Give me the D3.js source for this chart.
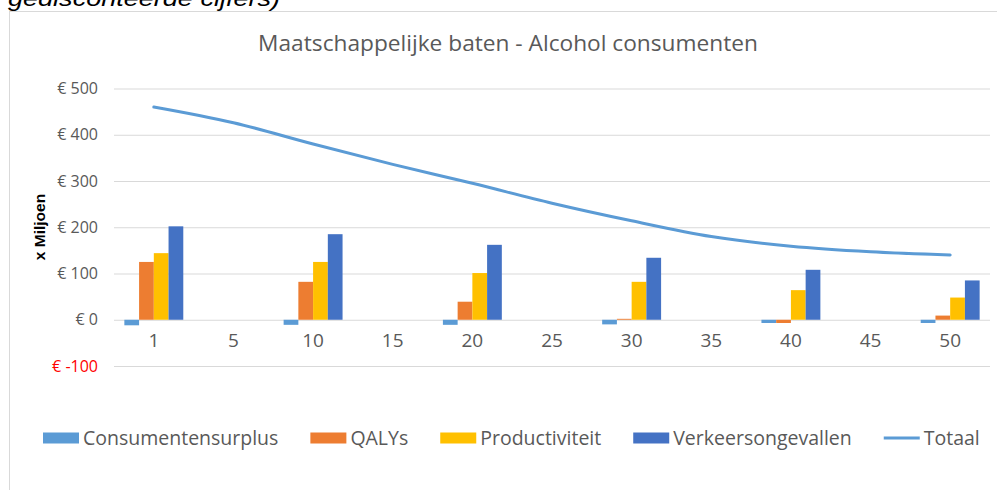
<!DOCTYPE html>
<html><head><meta charset="utf-8">
<script src="https://cdn.jsdelivr.net/npm/d3@7"></script>
<style>body{margin:0;background:#fff}svg{display:block}</style>
</head><body>
<svg id="chart" width="997" height="490"></svg>
<script>
const categories = ["1","5","10","15","20","25","30","35","40","45","50"];
const consumentensurplus = [-12,null,-11,null,-11,null,-10,null,-7,null,-7];
const qalys = [125,null,82,null,39,null,2,null,-7,null,9];
const productiviteit = [144,null,125,null,101,null,82,null,64,null,48];
const verkeersongevallen = [202,null,185,null,162,null,134,null,108,null,85];
const totaal = [460,426,380,336,295,252,214,180,159,147,140];
const yTicks = [-100,0,100,200,300,400,500];
const seriesNames = ["Consumentensurplus","QALYs","Productiviteit","Verkeersongevallen"];
const seriesColors = ["#5b9bd5","#ed7d31","#ffc000","#4472c4"];
const lineColor = "#5b9bd5";
const barSeries = [consumentensurplus, qalys, productiviteit, verkeersongevallen];

const font = "'Open Sans', sans-serif";
const svg = d3.select("#chart");

// frame
svg.append("line").attr("x1",9.5).attr("x2",9.5).attr("y1",11).attr("y2",490).attr("stroke","#d9d9d9");
svg.append("line").attr("x1",9).attr("x2",997).attr("y1",11.5).attr("y2",11.5).attr("stroke","#d9d9d9");

// cut-off top text
svg.append("text").attr("x",8).attr("y",6).attr("font-family","'Liberation Sans', Arial, sans-serif")
  .attr("font-style","italic").attr("font-size",22).attr("fill","#000")
  .attr("textLength",272).attr("lengthAdjust","spacingAndGlyphs")
  .text("gedisconteerde cijfers)");

// title
svg.append("text").attr("x",508).attr("y",51).attr("text-anchor","middle")
  .attr("font-family",font).attr("font-size",22.7).attr("fill","#595959")
  .text("Maatschappelijke baten - Alcohol consumenten");

const y = d3.scaleLinear().domain([-100,500]).range([366,88.5]);
const x0 = d3.scaleBand().domain(categories).range([114,990]).paddingInner(0.26).paddingOuter(0.13);
const x1 = d3.scaleBand().domain(seriesNames).range([0,x0.bandwidth()]);

// gridlines
const yAxis = d3.axisLeft(y).tickValues(yTicks).tickSize(-(990-114)).tickFormat(d=>"€ "+d);
const gy = svg.append("g").attr("transform","translate(114,0)").call(yAxis);
gy.select(".domain").remove();
gy.selectAll(".tick line").attr("stroke","#d9d9d9").attr("stroke-width",1);
gy.selectAll(".tick text").attr("x",-16).attr("font-family",font).attr("font-size",16)
  .attr("fill",d=>d<0?"#ff0000":"#595959");

// bars
seriesNames.forEach((name,si)=>{
  const vals = barSeries[si];
  svg.append("g").selectAll("rect")
    .data(categories.map((c,i)=>({c,v:vals[i]})).filter(d=>d.v!==null))
    .join("rect")
    .attr("x",d=>x0(d.c)+x1(name))
    .attr("width",x1.bandwidth())
    .attr("y",d=>y(Math.max(0,d.v)))
    .attr("height",d=>Math.abs(y(d.v)-y(0)))
    .attr("fill",seriesColors[si]);
});

// x axis labels
const xAxis = d3.axisBottom(x0).tickSize(0).tickPadding(14);
const gx = svg.append("g").attr("transform",`translate(0,${y(0)})`).call(xAxis);
gx.select(".domain").remove();
gx.selectAll(".tick text").attr("font-family",font).attr("font-size",19).attr("fill","#595959");

// line
const line = d3.line().x((d,i)=>x0(categories[i])+x0.bandwidth()/2).y(d=>y(d)).curve(d3.curveCatmullRom.alpha(0.5));
svg.append("path").datum(totaal).attr("d",line).attr("fill","none")
  .attr("stroke",lineColor).attr("stroke-width",3).attr("stroke-linecap","round");

// y title
svg.append("text").attr("transform","translate(45,227) rotate(-90)").attr("text-anchor","middle")
  .attr("font-family","'Liberation Sans', Arial, sans-serif").attr("font-weight","bold").attr("font-size",15.5)
  .attr("fill","#000").text("x Miljoen");

// legend
const legendItems = seriesNames.map((n,i)=>({name:n,color:seriesColors[i],type:"rect"}))
  .concat([{name:"Totaal",color:lineColor,type:"line"}]);
const lg = svg.append("g");
let lx = 43;
const ly = 438;
legendItems.forEach(it=>{
  if(it.type==="rect"){
    lg.append("rect").attr("x",lx).attr("y",ly-5.5).attr("width",36).attr("height",11).attr("fill",it.color);
  } else {
    lg.append("line").attr("x1",lx).attr("x2",lx+36).attr("y1",ly).attr("y2",ly).attr("stroke",it.color).attr("stroke-width",3);
  }
  const t = lg.append("text").attr("x",lx+40).attr("y",ly+7).attr("font-family",font).attr("font-size",19.5)
    .attr("fill","#595959").text(it.name);
  lx += 40 + t.node().getComputedTextLength() + 32;
});
</script>
</body></html>
